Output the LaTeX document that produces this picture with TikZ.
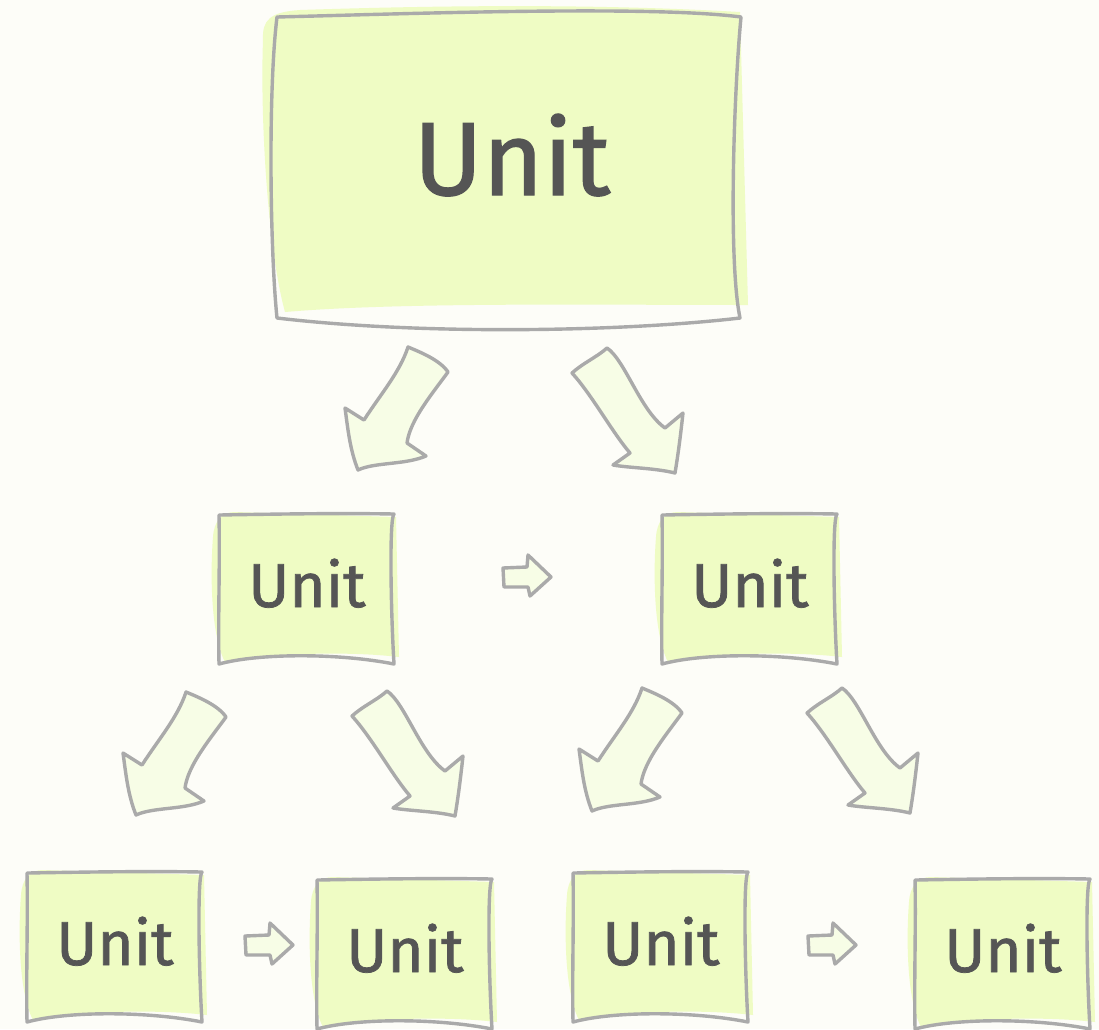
\documentclass[tikz,border=0pt]{standalone}
\usepackage{fontspec}
\setmainfont{Fira Sans}[FakeBold=1.2]
\definecolor{bgc}{HTML}{FDFDF8}
\definecolor{boxfill}{HTML}{EFFCC4}
\definecolor{arrfill}{HTML}{F7FDE6}
\definecolor{inkc}{HTML}{AAAAAA}
\definecolor{txtc}{HTML}{555555}
\tikzset{
  ink/.style={draw=inkc, line width=3.4pt, line join=round, line cap=round},
  lbl/.style={text=txtc, anchor=base, inner sep=0pt},
  ubox/.pic={
    \fill[boxfill] (-6,22) .. controls (-5,6) and (3,-3) .. (16,-3) -- (177,2) -- (180,142)
       .. controls (130,136) and (50,138) .. (6,147) .. controls (-8,120) and (-9,60) .. cycle;
    \draw[ink] (0,0) .. controls (60,-1) and (120,-2) .. (175,-1)
       .. controls (170,4) and (172,100) .. (175,149)
       .. controls (120,138) and (40,138) .. (0,149)
       .. controls (-1,100) and (1,50) .. cycle;
  },
  dlarrow/.pic={
    \draw[ink, fill=arrfill] (0,0) .. controls (12,5) and (32,13) .. (40,25)
       .. controls (24,47) and (2,73) .. (-1,96) -- (18,109)
       .. controls (-3,118) and (-33,115) .. (-50,123)
       .. controls (-58,103) and (-60,83) .. (-63,61) -- (-44,73)
       .. controls (-28,48) and (-8,25) .. cycle;
  },
  drarrow/.pic={
    \draw[ink, fill=arrfill] (0,0) .. controls (11,-10) and (25,-16) .. (35,-25)
       .. controls (53,-13) and (68,37) .. (93,55) -- (111,40)
       .. controls (108,67) and (106,82) .. (103,100)
       .. controls (83,95) and (58,95) .. (41,92) -- (58,80)
       .. controls (40,59) and (20,22) .. cycle;
  },
  rarrow/.pic={
    \draw[ink, fill=arrfill] (0,0) -- (24,-1) -- (25,-13) -- (48,9) -- (27,28) -- (25,19) -- (1,19) -- cycle;
  }
}
\begin{document}
\begin{tikzpicture}[x=1pt,y=-1pt]
\fill[bgc] (0,0) rectangle (1099,1029);
\useasboundingbox (0,0) rectangle (1099,1029);
% top box
\fill[boxfill] (263,40) .. controls (262,20) and (270,12) .. (300,10)
   .. controls (450,5) and (600,4) .. (740,12) -- (748,305)
   .. controls (600,305) and (400,302) .. (285,312)
   .. controls (268,250) and (260,120) .. (263,40) -- cycle;
\draw[ink] (277,17) .. controls (400,14) and (650,5) .. (741,17)
   .. controls (734,90) and (728,260) .. (740,318)
   .. controls (620,332) and (420,335) .. (277,318)
   .. controls (270,250) and (268,90) .. cycle;
\node[lbl, font=\fontsize{104}{104}\selectfont] (top) at (512,195) {Unit};
% small boxes
\pic at (219,515) {ubox};
\node[lbl, font=\fontsize{62}{62}\selectfont] (ml) at (307,607) {Unit};
\pic at (662,515) {ubox};
\node[lbl, font=\fontsize{62}{62}\selectfont] (mr) at (750,607) {Unit};
\pic at (27,873) {ubox};
\node[lbl, font=\fontsize{62}{62}\selectfont] (b1) at (115,965) {Unit};
\pic at (317,880) {ubox};
\node[lbl, font=\fontsize{62}{62}\selectfont] (b2) at (405,972) {Unit};
\pic at (573,873) {ubox};
\node[lbl, font=\fontsize{62}{62}\selectfont] (b3) at (661,965) {Unit};
\pic at (915,880) {ubox};
\node[lbl, font=\fontsize{62}{62}\selectfont] (b4) at (1003,972) {Unit};
% arrows
\pic at (408,347) {dlarrow};
\pic at (572,373) {drarrow};
\pic at (186,692) {dlarrow};
\pic at (352,716) {drarrow};
\pic at (642,688) {dlarrow};
\pic at (807,713) {drarrow};
\pic at (503,568) {rarrow};
\pic at (245,936) {rarrow};
\pic at (808,936) {rarrow};
\end{tikzpicture}
\end{document}
